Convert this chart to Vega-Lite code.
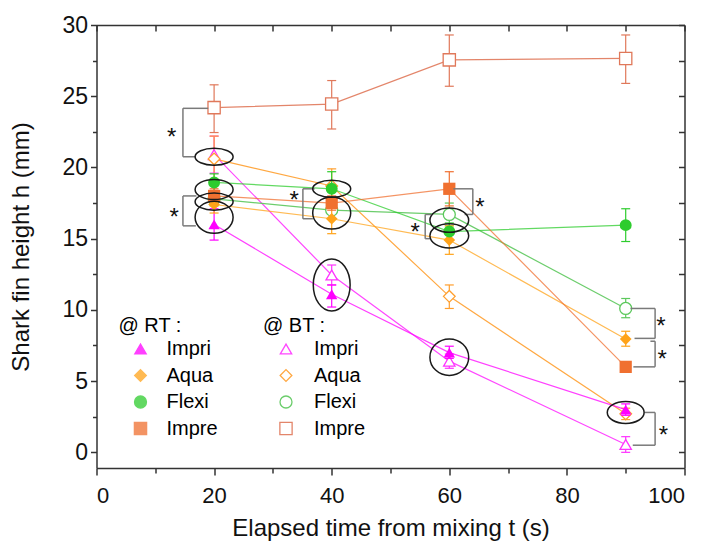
{
  "$schema": "https://vega.github.io/schema/vega-lite/v6.json",
  "width": 588,
  "height": 443,
  "autosize": "none",
  "padding": {"left": 96.5, "top": 25, "right": 22.5, "bottom": 78},
  "background": "white",
  "datasets": {
    "series": [
      {"group": "RT", "series": "RT Impri", "t": 20, "h": 16.0, "lo": 14.9, "hi": 17.1},
      {"group": "RT", "series": "RT Impri", "t": 40, "h": 11.1, "lo": 10.2, "hi": 11.75},
      {"group": "RT", "series": "RT Impri", "t": 60, "h": 7.0, "lo": 6.6, "hi": 7.45},
      {"group": "RT", "series": "RT Impri", "t": 90, "h": 3.0, "lo": 2.6, "hi": 3.4},
      {"group": "RT", "series": "RT Aqua", "t": 20, "h": 17.4, "lo": 16.8, "hi": 18.0},
      {"group": "RT", "series": "RT Aqua", "t": 40, "h": 16.4, "lo": 15.35, "hi": 17.45},
      {"group": "RT", "series": "RT Aqua", "t": 60, "h": 14.9, "lo": 13.9, "hi": 15.9},
      {"group": "RT", "series": "RT Aqua", "t": 90, "h": 7.95, "lo": 7.45, "hi": 8.5},
      {"group": "RT", "series": "RT Flexi", "t": 20, "h": 18.95, "lo": 18.35, "hi": 19.55},
      {"group": "RT", "series": "RT Flexi", "t": 40, "h": 18.5, "lo": 17.3, "hi": 19.7},
      {"group": "RT", "series": "RT Flexi", "t": 60, "h": 15.5, "lo": 14.9, "hi": 16.1},
      {"group": "RT", "series": "RT Flexi", "t": 90, "h": 15.95, "lo": 14.8, "hi": 17.1},
      {"group": "RT", "series": "RT Impre", "t": 20, "h": 18.0, "lo": 17.5, "hi": 18.5},
      {"group": "RT", "series": "RT Impre", "t": 40, "h": 17.5, "lo": 17.0, "hi": 18.0},
      {"group": "RT", "series": "RT Impre", "t": 60, "h": 18.5, "lo": 17.3, "hi": 19.7},
      {"group": "RT", "series": "RT Impre", "t": 90, "h": 6.0, "lo": 5.65, "hi": 6.35},
      {"group": "BT", "series": "BT Impri", "t": 20, "h": 20.9, "lo": 19.6, "hi": 22.2},
      {"group": "BT", "series": "BT Impri", "t": 40, "h": 12.45, "lo": 11.75, "hi": 13.15},
      {"group": "BT", "series": "BT Impri", "t": 60, "h": 6.4, "lo": 5.9, "hi": 6.9},
      {"group": "BT", "series": "BT Impri", "t": 90, "h": 0.55, "lo": 0.0, "hi": 1.1},
      {"group": "BT", "series": "BT Aqua", "t": 20, "h": 20.6, "lo": 19.0, "hi": 22.2},
      {"group": "BT", "series": "BT Aqua", "t": 40, "h": 18.7, "lo": 17.5, "hi": 19.9},
      {"group": "BT", "series": "BT Aqua", "t": 60, "h": 10.95, "lo": 10.1, "hi": 11.75},
      {"group": "BT", "series": "BT Aqua", "t": 90, "h": 2.7, "lo": 2.3, "hi": 3.1},
      {"group": "BT", "series": "BT Flexi", "t": 20, "h": 17.8, "lo": 17.3, "hi": 18.3},
      {"group": "BT", "series": "BT Flexi", "t": 40, "h": 17.0, "lo": 16.4, "hi": 17.6},
      {"group": "BT", "series": "BT Flexi", "t": 60, "h": 16.7, "lo": 15.9, "hi": 17.5},
      {"group": "BT", "series": "BT Flexi", "t": 90, "h": 10.1, "lo": 9.45, "hi": 10.8},
      {"group": "BT", "series": "BT Impre", "t": 20, "h": 24.2, "lo": 22.45, "hi": 25.8},
      {"group": "BT", "series": "BT Impre", "t": 40, "h": 24.45, "lo": 22.7, "hi": 26.1},
      {"group": "BT", "series": "BT Impre", "t": 60, "h": 27.55, "lo": 25.7, "hi": 29.3},
      {"group": "BT", "series": "BT Impre", "t": 90, "h": 27.65, "lo": 25.9, "hi": 29.3}
    ],
    "ellipses": [
      {"t": 20, "h": 20.75, "kind": "a"},
      {"t": 20, "h": 18.45, "kind": "b"},
      {"t": 20, "h": 17.6, "kind": "a"},
      {"t": 20, "h": 16.5, "kind": "e"},
      {"t": 40, "h": 18.5, "kind": "a"},
      {"t": 40, "h": 16.8, "kind": "e"},
      {"t": 40, "h": 11.75, "kind": "g"},
      {"t": 60, "h": 16.3, "kind": "d"},
      {"t": 60, "h": 15.2, "kind": "d"},
      {"t": 60, "h": 6.68, "kind": "f"},
      {"t": 90, "h": 2.8, "kind": "c"}
    ],
    "brackets": [
      {"x1": 14.7, "y1": 24.15, "x2": 19.0, "y2": 24.15},
      {"x1": 14.7, "y1": 24.15, "x2": 14.7, "y2": 20.75},
      {"x1": 14.7, "y1": 20.75, "x2": 16.8, "y2": 20.75},
      {"x1": 14.7, "y1": 18.0, "x2": 17.0, "y2": 18.0},
      {"x1": 14.7, "y1": 18.0, "x2": 14.7, "y2": 15.9},
      {"x1": 14.7, "y1": 15.9, "x2": 16.9, "y2": 15.9},
      {"x1": 35.1, "y1": 18.5, "x2": 37.1, "y2": 18.5},
      {"x1": 35.1, "y1": 18.5, "x2": 35.1, "y2": 16.4},
      {"x1": 35.1, "y1": 16.4, "x2": 36.8, "y2": 16.4},
      {"x1": 55.9, "y1": 16.7, "x2": 56.9, "y2": 16.7},
      {"x1": 55.9, "y1": 16.7, "x2": 55.9, "y2": 15.0},
      {"x1": 55.9, "y1": 15.0, "x2": 56.9, "y2": 15.0},
      {"x1": 60.7, "y1": 18.5, "x2": 64.0, "y2": 18.5},
      {"x1": 64.0, "y1": 18.5, "x2": 64.0, "y2": 16.7},
      {"x1": 62.6, "y1": 16.7, "x2": 64.0, "y2": 16.7},
      {"x1": 90.8, "y1": 10.1, "x2": 95.0, "y2": 10.1},
      {"x1": 95.0, "y1": 10.1, "x2": 95.0, "y2": 8.0},
      {"x1": 91.5, "y1": 8.0, "x2": 95.0, "y2": 8.0},
      {"x1": 94.2, "y1": 7.8, "x2": 95.0, "y2": 7.8},
      {"x1": 95.0, "y1": 7.8, "x2": 95.0, "y2": 6.0},
      {"x1": 91.3, "y1": 6.0, "x2": 95.0, "y2": 6.0},
      {"x1": 93.2, "y1": 2.8, "x2": 95.0, "y2": 2.8},
      {"x1": 95.0, "y1": 2.8, "x2": 95.0, "y2": 0.5},
      {"x1": 91.2, "y1": 0.5, "x2": 95.0, "y2": 0.5}
    ],
    "stars": [
      {"t": 12.8, "h": 22.5},
      {"t": 13.2, "h": 16.9},
      {"t": 33.6, "h": 18.1},
      {"t": 54.2, "h": 15.8},
      {"t": 65.2, "h": 17.6},
      {"t": 96.0, "h": 9.2},
      {"t": 96.2, "h": 6.9},
      {"t": 96.4, "h": 1.6}
    ]
  },
  "layer": [
    {
      "data": {"name": "series"},
      "transform": [{"filter": "datum.group == 'BT'"}],
      "layer": [
        {
          "mark": {"type": "line", "strokeWidth": 1.2, "opacity": 0.9},
          "encoding": {
            "x": {"field": "t", "type": "quantitative", "scale": {"domain": [0, 100], "nice": false}, "axis": null},
            "y": {"field": "h", "type": "quantitative", "scale": {"domain": [-1.1, 30], "nice": false, "zero": false}, "axis": null},
            "color": {"field": "series", "type": "nominal", "scale": {"domain": ["BT Impri", "BT Aqua", "BT Flexi", "BT Impre"], "range": ["#ff33ff", "#ff9f2e", "#5cc85c", "#e0785a"]}}
          }
        },
        {
          "mark": {"type": "rule", "strokeWidth": 1.2},
          "encoding": {
            "x": {"field": "t", "type": "quantitative", "axis": null},
            "y": {"field": "lo", "type": "quantitative", "axis": null},
            "y2": {"field": "hi"},
            "color": {"field": "series", "type": "nominal"}
          }
        },
        {
          "mark": {"type": "point", "shape": "stroke", "size": 81, "strokeWidth": 1.2, "filled": false, "opacity": 1},
          "encoding": {
            "x": {"field": "t", "type": "quantitative", "axis": null},
            "y": {"field": "lo", "type": "quantitative", "axis": null},
            "color": {"field": "series", "type": "nominal"}
          }
        },
        {
          "mark": {"type": "point", "shape": "stroke", "size": 81, "strokeWidth": 1.2, "filled": false, "opacity": 1},
          "encoding": {
            "x": {"field": "t", "type": "quantitative", "axis": null},
            "y": {"field": "hi", "type": "quantitative", "axis": null},
            "color": {"field": "series", "type": "nominal"}
          }
        },
        {
          "mark": {"type": "point", "filled": false, "fill": "white", "strokeWidth": 1.3, "opacity": 1},
          "encoding": {
            "x": {"field": "t", "type": "quantitative", "axis": null},
            "y": {"field": "h", "type": "quantitative", "axis": null},
            "color": {
              "field": "series", "type": "nominal",
              "legend": {
                "title": "@ BT :", "orient": "none", "legendX": 166.5, "legendY": 291, "padding": 0,
                "titleFontSize": 20, "titleFontWeight": "normal", "titleColor": "black", "titleFont": "Liberation Sans", "titlePadding": 3,
                "labelFontSize": 20, "labelColor": "black", "labelFont": "Liberation Sans", "labelOffset": 18, "symbolOffset": 13,
                "symbolSize": 144, "symbolStrokeWidth": 1.3, "rowPadding": 6.5,
                "labelExpr": "substring(datum.label, 3)"
              }
            },
            "shape": {"field": "series", "type": "nominal", "scale": {"domain": ["BT Impri", "BT Aqua", "BT Flexi", "BT Impre"], "range": ["triangle-up", "diamond", "circle", "square"]}, "legend": null},
            "size": {"field": "series", "type": "nominal", "scale": {"domain": ["BT Impri", "BT Aqua", "BT Flexi", "BT Impre"], "range": [130, 150, 110, 70]}, "legend": null}
          }
        }
      ]
    },
    {
      "data": {"name": "series"},
      "transform": [{"filter": "datum.group == 'RT'"}],
      "layer": [
        {
          "mark": {"type": "line", "strokeWidth": 1.2, "opacity": 0.75},
          "encoding": {
            "x": {"field": "t", "type": "quantitative", "scale": {"domain": [0, 100], "nice": false}, "axis": null},
            "y": {"field": "h", "type": "quantitative", "scale": {"domain": [-1.1, 30], "nice": false, "zero": false}, "axis": null},
            "color": {"field": "series", "type": "nominal", "scale": {"domain": ["RT Impri", "RT Aqua", "RT Flexi", "RT Impre"], "range": ["#ff00ff", "#ffa31a", "#2ecc2e", "#f07030"]}}
          }
        },
        {
          "mark": {"type": "rule", "strokeWidth": 1.2},
          "encoding": {
            "x": {"field": "t", "type": "quantitative", "axis": null},
            "y": {"field": "lo", "type": "quantitative", "axis": null},
            "y2": {"field": "hi"},
            "color": {"field": "series", "type": "nominal"}
          }
        },
        {
          "mark": {"type": "point", "shape": "stroke", "size": 81, "strokeWidth": 1.2, "filled": false, "opacity": 1},
          "encoding": {
            "x": {"field": "t", "type": "quantitative", "axis": null},
            "y": {"field": "lo", "type": "quantitative", "axis": null},
            "color": {"field": "series", "type": "nominal"}
          }
        },
        {
          "mark": {"type": "point", "shape": "stroke", "size": 81, "strokeWidth": 1.2, "filled": false, "opacity": 1},
          "encoding": {
            "x": {"field": "t", "type": "quantitative", "axis": null},
            "y": {"field": "hi", "type": "quantitative", "axis": null},
            "color": {"field": "series", "type": "nominal"}
          }
        },
        {
          "mark": {"type": "point", "filled": true, "opacity": 1},
          "encoding": {
            "x": {"field": "t", "type": "quantitative", "axis": null},
            "y": {"field": "h", "type": "quantitative", "axis": null},
            "color": {
              "field": "series", "type": "nominal",
              "legend": {
                "title": "@ RT :", "orient": "none", "legendX": 22, "legendY": 291, "padding": 0,
                "titleFontSize": 20, "titleFontWeight": "normal", "titleColor": "black", "titleFont": "Liberation Sans", "titlePadding": 3,
                "labelFontSize": 20, "labelColor": "black", "labelFont": "Liberation Sans", "labelOffset": 16, "symbolOffset": 12,
                "symbolSize": 144, "symbolStrokeWidth": 1.3, "rowPadding": 6.5,
                "labelExpr": "substring(datum.label, 3)"
              }
            },
            "shape": {"field": "series", "type": "nominal", "scale": {"domain": ["RT Impri", "RT Aqua", "RT Flexi", "RT Impre"], "range": ["triangle-up", "diamond", "circle", "square"]}, "legend": null},
            "size": {"field": "series", "type": "nominal", "scale": {"domain": ["RT Impri", "RT Aqua", "RT Flexi", "RT Impre"], "range": [130, 150, 121, 70]}, "legend": null}
          }
        }
      ]
    },
    {
      "data": {"name": "brackets"},
      "mark": {"type": "rule", "color": "#7a7a7a", "strokeWidth": 1.5},
      "encoding": {
        "x": {
          "field": "x1", "type": "quantitative", "scale": {"domain": [0, 100], "nice": false},
          "axis": {
            "orient": "bottom", "values": [0, 10, 20, 30, 40, 50, 60, 70, 80, 90, 100],
            "labelExpr": "datum.value % 20 == 0 ? datum.label : ''",
            "tickSize": {"condition": {"test": "datum.value % 20 != 0", "value": 5}, "value": 7},
            "labelPadding": 10, "labelFontSize": 22,
            "title": "Elapsed time from mixing t (s)", "titleFontSize": 24, "titlePadding": 10
          }
        },
        "x2": {"field": "x2"},
        "y": {
          "field": "y1", "type": "quantitative", "scale": {"domain": [-1.1, 30], "nice": false, "zero": false},
          "axis": {
            "orient": "left", "values": [0, 2.5, 5, 7.5, 10, 12.5, 15, 17.5, 20, 22.5, 25, 27.5, 30],
            "labelExpr": "datum.value % 5 == 0 ? datum.label : ''",
            "tickSize": {"condition": {"test": "datum.value % 5 != 0", "value": 4}, "value": 6},
            "labelPadding": 3, "labelFontSize": 23,
            "title": "Shark fin height h (mm)", "titleFontSize": 24, "titlePadding": 28
          }
        },
        "y2": {"field": "y2"}
      }
    },
    {
      "data": {"name": "ellipses"},
      "mark": {"type": "point", "filled": false, "stroke": "#1a1a1a", "strokeWidth": 1.5, "size": 1444, "opacity": 1},
      "encoding": {
        "x": {
          "field": "t", "type": "quantitative", "scale": {"domain": [0, 100], "nice": false},
          "axis": {
            "orient": "top", "values": [0, 10, 20, 30, 40, 50, 60, 70, 80, 90, 100],
            "labels": false, "tickSize": -6, "title": null
          }
        },
        "y": {
          "field": "h", "type": "quantitative", "scale": {"domain": [-1.1, 30], "nice": false, "zero": false},
          "axis": {
            "orient": "right", "values": [0, 2.5, 5, 7.5, 10, 12.5, 15, 17.5, 20, 22.5, 25, 27.5, 30],
            "labels": false, "tickSize": -6, "title": null
          }
        },
        "shape": {
          "field": "kind", "type": "nominal",
          "scale": {
            "domain": ["a", "b", "c", "d", "e", "f", "g"],
            "range": [
              "M -1 0 A 1 0.45 0 1 0 1 0 A 1 0.45 0 1 0 -1 0 Z",
              "M -1 0 A 1 0.53 0 1 0 1 0 A 1 0.53 0 1 0 -1 0 Z",
              "M -0.97 0 A 0.97 0.58 0 1 0 0.97 0 A 0.97 0.58 0 1 0 -0.97 0 Z",
              "M -1.02 0 A 1.02 0.64 0 1 0 1.02 0 A 1.02 0.64 0 1 0 -1.02 0 Z",
              "M -1 0 A 1 0.84 0 1 0 1 0 A 1 0.84 0 1 0 -1 0 Z",
              "M -1.02 0 A 1.02 0.96 0 1 0 1.02 0 A 1.02 0.96 0 1 0 -1.02 0 Z",
              "M -0.97 0 A 0.97 1.37 0 1 0 0.97 0 A 0.97 1.37 0 1 0 -0.97 0 Z"
            ]
          },
          "legend": null
        }
      }
    },
    {
      "data": {"name": "stars"},
      "mark": {"type": "text", "text": "*", "fontSize": 24, "font": "Liberation Sans", "color": "#111111", "baseline": "middle", "align": "center", "dy": 6},
      "encoding": {
        "x": {"field": "t", "type": "quantitative", "scale": {"domain": [0, 100], "nice": false}, "axis": null},
        "y": {"field": "h", "type": "quantitative", "scale": {"domain": [-1.1, 30], "nice": false, "zero": false}, "axis": null}
      }
    }
  ],
  "resolve": {
    "scale": {"color": "independent", "shape": "independent", "size": "independent"},
    "axis": {"x": "independent", "y": "independent"}
  },
  "config": {
    "view": {"stroke": null},
    "font": "Liberation Sans",
    "axis": {
      "grid": false,
      "domainColor": "#333333", "tickColor": "#333333", "domainWidth": 1.5, "tickWidth": 1.5,
      "labelColor": "#111111", "titleColor": "#111111",
      "labelFont": "Liberation Sans", "titleFont": "Liberation Sans", "titleFontWeight": "normal"
    }
  }
}
